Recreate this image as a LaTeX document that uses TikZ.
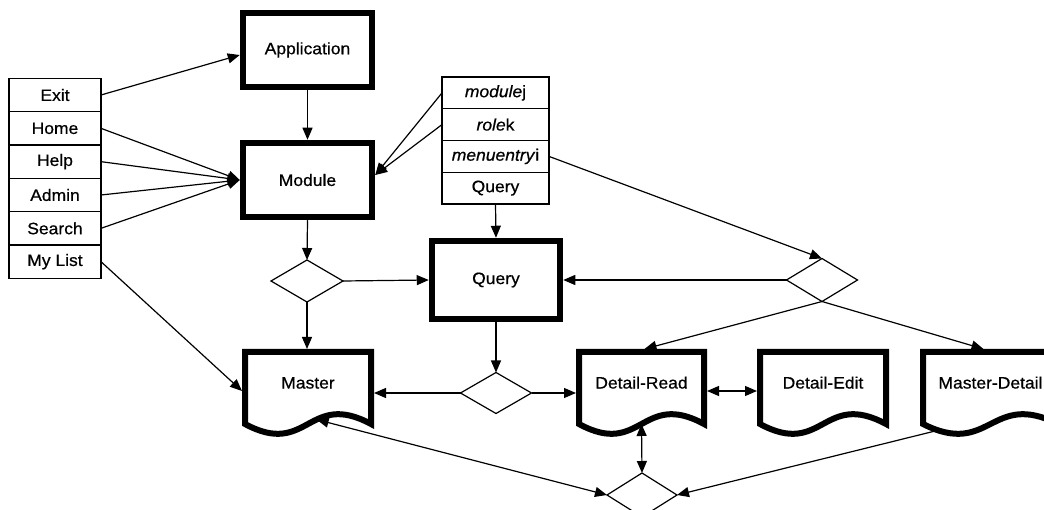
\documentclass[tikz,border=0pt]{standalone}
\usepackage{fontspec}
\setmainfont{Liberation Sans}[FakeStretch=1.06,FakeBold=0.6]
\usetikzlibrary{arrows.meta,shapes.geometric,calc}

\tikzset{
  every node/.style={font=\fontsize{16.5}{19}\selectfont},
  tip/.tip={Triangle[length=12pt,width=10pt]},
  conn/.style={line width=1.2pt, -tip},
  conn2/.style={line width=1.2pt, tip-tip},
  menuitem/.style={draw, line width=1.1pt, minimum width=92pt, minimum height=33.33pt, inner sep=0pt, outer sep=0pt},
  listitem/.style={draw, line width=1.1pt, minimum width=107pt, minimum height=31.75pt, inner sep=0pt, outer sep=0pt},
  heavybox/.style={draw, line width=6.5pt, minimum width=129pt, minimum height=74pt, inner sep=0pt, outer sep=3.25pt},
  choice/.style={draw, diamond, line width=1.2pt, inner sep=0pt, outer sep=0pt},
  docbox/.style={minimum width=#1, minimum height=78pt, inner sep=0pt, outer sep=3pt, text height=11pt, text depth=16pt},
  docline/.style={line width=6pt, line join=miter},
}

% document symbol: name, left x, right x, label, position of the wave point
\newcommand\docnode[5]{%
  \node[docbox={(#3-#2)*1pt}] (#1) at ({(#2+#3)/2},391) {#4};
  \draw[docline] (#2,424) -- (#2,352) -- (#3,352) -- (#3,424)
    .. controls ({(#2+#3)/2},390) and ({(#2+#3)/2},458) .. (#2,424)
    coordinate[pos=#5] (#1-wave) -- cycle;
}

\begin{document}
\begin{tikzpicture}[x=1pt,y=-1pt]
\useasboundingbox (0,0) rectangle (1044,510);

% menu entries
\node[menuitem] (exit)   at (55,95)     {Exit};
\node[menuitem] (home)   at (55,128.33) {Home};
\node[menuitem] (help)   at (55,161.67) {Help};
\node[menuitem] (admin)  at (55,195)    {Admin};
\node[menuitem] (search) at (55,228.33) {Search};
\node[menuitem] (mylist) at (55,261.67) {My List};

% parameter list
\node[listitem] (lmod)   at (495.5,92.9)  {\textit{module}j};
\node[listitem] (lrole)  at (495.5,124.6) {\textit{role}k};
\node[listitem] (lmenu)  at (495.5,156.4) {\textit{menuentry}i};
\node[listitem] (lquery) at (495.5,188.1) {Query};

% main boxes
\node[heavybox] (app)   at (307.5,50)  {Application};
\node[heavybox] (mod)   at (307.5,180) {Module};
\node[heavybox, minimum width=128pt, minimum height=78pt] (query) at (496,280) {Query};

% decisions
\node[choice, minimum width=72pt, minimum height=42pt] (ldia) at (307,281) {};
\node[choice, minimum width=71pt, minimum height=43pt] (rdia) at (822,280) {};
\node[choice, minimum width=71pt, minimum height=41pt] (cdia) at (496,393) {};
\node[choice, minimum width=70pt, minimum height=44pt] (bdia) at (642,495) {};

% documents
\docnode{master}{245}{371}{Master}{0.41}
\docnode{dr}{579}{704}{Detail-Read}{0.5}
\docnode{de}{760}{886}{Detail-Edit}{0.5}
\docnode{md}{923}{1058}{Master-Detail}{0.92}

% connectors
\draw[conn] (exit.east) -- ([yshift=-5pt]app.west);
\foreach \m in {home,help,admin,search}
  \draw[conn] (\m.east) -- (mod.west);
\draw[conn] (mylist.east) -- (master.west);
\draw[conn] (app.south) -- (mod.north);
\draw[conn] (lmod.west) -- ([yshift=5pt]mod.east);
\draw[conn] (lrole.west) -- ([yshift=5pt]mod.east);
\draw[conn] (lquery.south) -- (query.north);
\draw[conn] (lmenu.east) -- (rdia.north);
\draw[conn] (rdia.west) -- (query.east);
\draw[conn] (mod.south) -- (ldia.north);
\draw[conn] (ldia.east) -- (query.west);
\draw[conn] (ldia.south) -- (ldia.south |- master.north);
\draw[conn] (query.south) -- (cdia.north);
\draw[conn] (cdia.west) -- (cdia.west -| master.east);
\draw[conn] (cdia.east) -- (cdia.east -| dr.west);
\draw[conn] (rdia.south) -- ([xshift=3pt]dr.north);
\draw[conn] (rdia.south) -- ([xshift=-7pt]md.north);
\draw[conn2] (dr.east) -- (de.west);
\draw[conn2] (dr-wave) -- (bdia.north);
\draw[conn2] (master-wave) -- (bdia.west);
\draw[conn] (md-wave) -- (bdia.east);
\end{tikzpicture}
\end{document}
